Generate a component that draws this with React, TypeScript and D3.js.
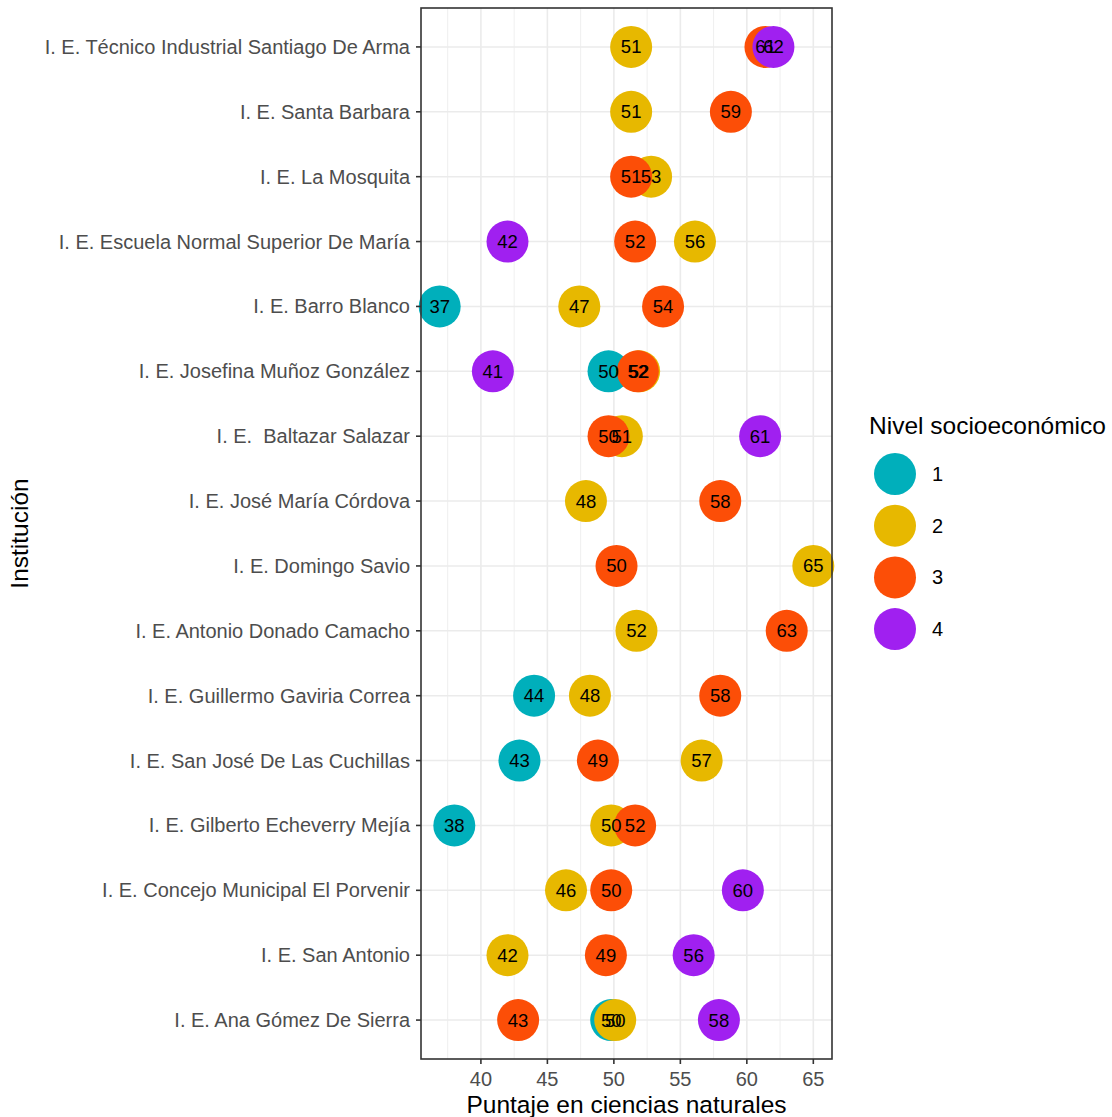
import React from 'react';
import * as d3 from 'd3';

const institutions = [
  'I. E. Técnico Industrial Santiago De Arma',
  'I. E. Santa Barbara',
  'I. E. La Mosquita',
  'I. E. Escuela Normal Superior De María',
  'I. E. Barro Blanco',
  'I. E. Josefina Muñoz González',
  'I. E.  Baltazar Salazar',
  'I. E. José María Córdova',
  'I. E. Domingo Savio',
  'I. E. Antonio Donado Camacho',
  'I. E. Guillermo Gaviria Correa',
  'I. E. San José De Las Cuchillas',
  'I. E. Gilberto Echeverry Mejía',
  'I. E. Concejo Municipal El Porvenir',
  'I. E. San Antonio',
  'I. E. Ana Gómez De Sierra',
];

// puntaje por nivel socioeconómico (null = sin dato)
const nivel1 = [null, null, null, null, 36.9, 49.6, null, null, null, null, 44.0, 42.9, 38.0, null, null, 49.8];
const nivel2 = [51.3, 51.3, 52.8, 56.1, 47.4, 51.9, 50.6, 47.9, 65.0, 51.7, 48.2, 56.6, 49.8, 46.4, 42.0, 50.1];
const nivel3 = [61.4, 58.8, 51.3, 51.6, 53.7, 51.8, 49.6, 58.0, 50.2, 63.0, 58.0, 48.8, 51.6, 49.8, 49.4, 42.8];
const nivel4 = [62.0, null, null, 42.0, null, 40.9, 61.0, null, null, null, null, null, null, 59.7, 56.0, 57.9];

const levels = ['1', '2', '3', '4'];
const colors = ['#00AFBB', '#E7B800', '#FC4E07', '#A020F0'];
const xTicks = [40, 45, 50, 55, 60, 65];

const App: React.FC = () => {
  const width = 1112;
  const height = 1117;
  const margin = { top: 8, right: 280, bottom: 58, left: 421 };
  const x0 = margin.left;
  const x1 = width - margin.right;
  const y0 = margin.top;
  const y1 = height - margin.bottom;

  const series = [nivel1, nivel2, nivel3, nivel4];
  const points = series.flatMap((vals, li) =>
    vals
      .map((v, i) => (v == null ? null : { inst: institutions[i], value: v as number, level: li }))
      .filter((d): d is { inst: string; value: number; level: number } => d !== null)
  );

  const ext = d3.extent(points, (d) => d.value) as [number, number];
  const pad = (ext[1] - ext[0]) * 0.05;
  const x = d3.scaleLinear().domain([ext[0] - pad, ext[1] + pad]).range([x0, x1]);
  const y = d3.scalePoint<string>().domain(institutions).range([y0, y1]).padding(0.6);
  const color = d3.scaleOrdinal<number, string>().domain([0, 1, 2, 3]).range(colors);

  const minor = d3.range(37.5, 66, 5);
  const font = '"Liberation Sans", Arial, sans-serif';
  const r = 21;

  return (
    <svg width={width} height={height} style={{ position: 'absolute', left: 0, top: 0 }} fontFamily={font}>
      <rect x={0} y={0} width={width} height={height} fill="#fff" />
      {/* grid */}
      {minor.map((t) => (
        <line key={'mi' + t} x1={x(t)} x2={x(t)} y1={y0} y2={y1} stroke="#EBEBEB" strokeWidth={0.8} />
      ))}
      {xTicks.map((t) => (
        <line key={'ma' + t} x1={x(t)} x2={x(t)} y1={y0} y2={y1} stroke="#EBEBEB" strokeWidth={1.6} />
      ))}
      {institutions.map((d) => (
        <line key={'g' + d} x1={x0} x2={x1} y1={y(d)} y2={y(d)} stroke="#EBEBEB" strokeWidth={1.6} />
      ))}
      {/* points */}
      {points.map((p, i) => (
        <circle key={'p' + i} cx={x(p.value)} cy={y(p.inst)} r={r} fill={color(p.level)} />
      ))}
      {points.map((p, i) => (
        <text
          key={'t' + i}
          x={x(p.value)}
          y={y(p.inst)}
          dy="0.35em"
          textAnchor="middle"
          fontSize={18.5}
          fill="#000"
        >
          {Math.round(p.value)}
        </text>
      ))}
      {/* panel border */}
      <rect x={x0} y={y0} width={x1 - x0} height={y1 - y0} fill="none" stroke="#333333" strokeWidth={1.6} />
      {/* y axis */}
      {institutions.map((d) => (
        <g key={'yt' + d}>
          <line x1={x0 - 5} x2={x0} y1={y(d)} y2={y(d)} stroke="#333333" strokeWidth={1.6} />
          <text x={x0 - 11} y={y(d)} dy="0.35em" textAnchor="end" fontSize={20} fill="#4D4D4D" xmlSpace="preserve">
            {d}
          </text>
        </g>
      ))}
      {/* x axis */}
      {xTicks.map((t) => (
        <g key={'xt' + t}>
          <line x1={x(t)} x2={x(t)} y1={y1} y2={y1 + 5} stroke="#333333" strokeWidth={1.6} />
          <text x={x(t)} y={y1 + 27} textAnchor="middle" fontSize={20} fill="#4D4D4D">
            {t}
          </text>
        </g>
      ))}
      <text x={(x0 + x1) / 2} y={height - 4} textAnchor="middle" fontSize={24.5} fill="#000">
        Puntaje en ciencias naturales
      </text>
      <text
        transform={`translate(28, ${(y0 + y1) / 2}) rotate(-90)`}
        textAnchor="middle"
        fontSize={24.5}
        fill="#000"
      >
        Institución
      </text>
      {/* legend */}
      <text x={869} y={434} fontSize={24.5} fill="#000">
        Nivel socioeconómico
      </text>
      {levels.map((l, i) => (
        <g key={'lg' + l} transform={`translate(895, ${474 + i * 51.7})`}>
          <circle r={r} fill={colors[i]} />
          <text x={37} dy="0.35em" fontSize={20} fill="#000">
            {l}
          </text>
        </g>
      ))}
    </svg>
  );
};

export default App;
